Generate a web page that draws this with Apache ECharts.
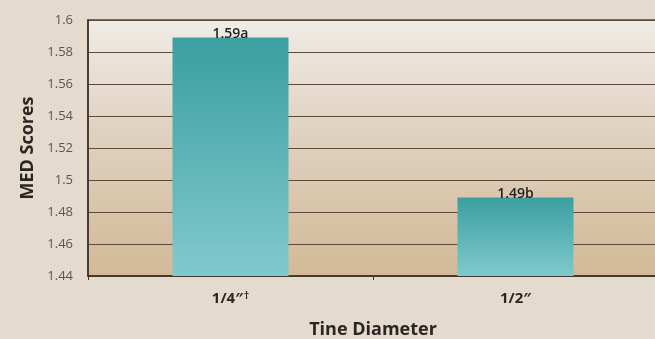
<!DOCTYPE html>
<html><head><meta charset="utf-8">
<script src="https://cdn.jsdelivr.net/npm/echarts@6/dist/echarts.min.js"></script>
<style>html,body{margin:0;padding:0;background:#e4dacd;}#c{width:655px;height:339px;}</style>
</head><body><div id="c"></div>
<script>
const categories = ['1/4″', '1/2″'];
const categorySuffix = ['†', ''];
const medScores = [1.589, 1.489];
const barLabels = ['1.59a', '1.49b'];
const yTicks = [1.44, 1.46, 1.48, 1.5, 1.52, 1.54, 1.56, 1.58, 1.6];

const chart = echarts.init(document.getElementById('c'));
const font = '"Open Sans", "Noto Sans", sans-serif';
chart.setOption({
  backgroundColor: '#e4dacd',
  animation: false,
  grid: {
    left: 88, right: -3, top: 20, bottom: 63,
    outerBoundsMode: 'none', containLabel: false,
    show: true, borderWidth: 1.5, borderColor: '#4a413a',
    backgroundColor: {type: 'linear', x: 0, y: 0, x2: 0, y2: 1, colorStops: [
      {offset: 0, color: '#f0ece6'}, {offset: 0.45, color: '#dfd1bf'}, {offset: 1, color: '#d3b997'}]}
  },
  xAxis: {
    type: 'category', data: categories,
    name: 'Tine Diameter', nameLocation: 'middle', nameGap: 45,
    nameTextStyle: {fontFamily: font, fontWeight: 'bold', fontSize: 18, color: '#2a2622'},
    axisLine: {lineStyle: {color: '#3a332d', width: 1.5}},
    axisTick: {show: true, length: 4, lineStyle: {color: '#3a332d'}},
    axisLabel: {
      margin: 15, color: '#2a2622', fontFamily: font, fontWeight: 'bold', fontSize: 15,
      formatter: (v, i) => categorySuffix[i] ? v + '{sup|' + categorySuffix[i] + '}' : v,
      rich: {sup: {fontSize: 10, fontWeight: 'bold', color: '#2a2622', fontFamily: font, verticalAlign: 'top', padding: [0, 0, 6, 1]}}
    }
  },
  yAxis: {
    type: 'value', min: 1.44, max: 1.6, interval: 0.02,
    name: 'MED Scores', nameLocation: 'middle', nameGap: 50, nameRotate: 90,
    nameTextStyle: {fontFamily: font, fontWeight: 'bold', fontSize: 18, color: '#2a2622'},
    axisLine: {show: true, lineStyle: {color: '#3a332d', width: 1.5}},
    axisTick: {show: false},
    axisLabel: {margin: 15, color: '#5c5650', fontFamily: font, fontSize: 13,
      formatter: v => { const t = yTicks.find(x => Math.abs(x - v) < 1e-6); return t === undefined ? '' : String(t); }},
    splitLine: {show: true, lineStyle: {color: '#5a4b3e', width: 1}}
  },
  series: [{
    type: 'bar', data: medScores, barWidth: 116,
    itemStyle: {color: {type: 'linear', x: 0, y: 0, x2: 0, y2: 1, colorStops: [
      {offset: 0, color: '#3b9fa0'}, {offset: 1, color: '#80c9cd'}]}},
    label: {show: true, position: 'top', distance: -3, color: '#221e1b', fontFamily: font, fontSize: 14, fontWeight: 600,
      formatter: p => barLabels[p.dataIndex]}
  }]
});
</script></body></html>
